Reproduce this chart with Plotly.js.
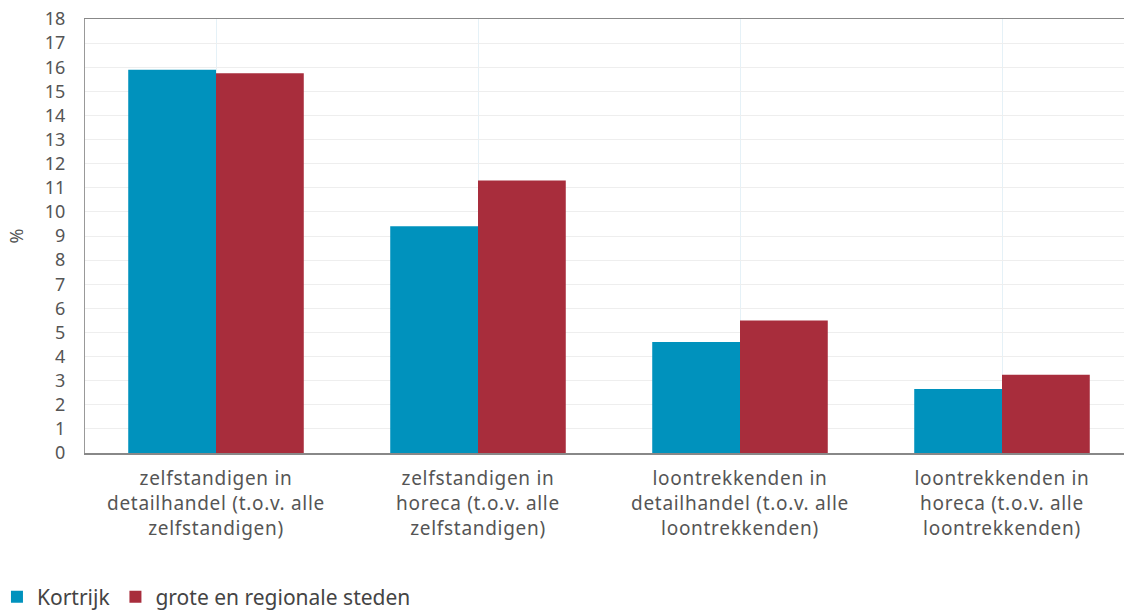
<!DOCTYPE html>
<html>
<head>
<meta charset="utf-8">
<script src="https://cdn.plot.ly/plotly-3.0.1.min.js"></script>
<style>
html,body{margin:0;padding:0;overflow:hidden;background:#fff;width:1124px;height:612px;}
#chart{width:1140px;height:612px;}
#chart svg .xtick text{letter-spacing:0.7px;}
</style>
</head>
<body>
<div id="chart"></div>
<script>
const categories = [
  "zelfstandigen in<br>detailhandel (t.o.v. alle<br>zelfstandigen)",
  "zelfstandigen in<br>horeca (t.o.v. alle<br>zelfstandigen)",
  "loontrekkenden in<br>detailhandel (t.o.v. alle<br>loontrekkenden)",
  "loontrekkenden in<br>horeca (t.o.v. alle<br>loontrekkenden)"
];
const kortrijk = [15.9, 9.4, 4.6, 2.65];
const steden = [15.75, 11.3, 5.5, 3.25];
const seriesNames = ["Kortrijk", "grote en regionale steden"];
const yTicks = [0,1,2,3,4,5,6,7,8,9,10,11,12,13,14,15,16,17,18];

const font = "'Noto Sans', 'Open Sans', sans-serif";
const traces = [
  {type:"bar", name:seriesNames[0], x:categories, y:kortrijk, marker:{color:"#0092bd"}, hoverinfo:"y"},
  {type:"bar", name:seriesNames[1], x:categories, y:steden, marker:{color:"#a82d3c"}, hoverinfo:"y"}
];
const layout = {
  width:1140, height:612,
  margin:{l:85, r:7, t:19, b:159, autoexpand:false},
  paper_bgcolor:"#fff", plot_bgcolor:"#fff",
  font:{family:font, color:"#555", size:19},
  barmode:"group", bargap:0.33, bargroupgap:0,
  showlegend:true,
  legend:{orientation:"h", x:-0.084, xanchor:"left", y:-0.332, yanchor:"middle",
          font:{size:21, color:"#444"}, itemwidth:20, tracegroupgap:0},
  xaxis:{type:"category", automargin:false, showgrid:true, gridcolor:"#e5f1f7", gridwidth:1,
         showline:true, linecolor:"#888", linewidth:1.5, mirror:true,
         ticks:"", ticklabelstandoff:8, tickfont:{size:19, color:"#555"}, fixedrange:true},
  yaxis:{range:[0,18], automargin:false, tickvals:yTicks, ticktext:yTicks.map(String),
         showgrid:true, gridcolor:"#eeeeee", gridwidth:1, zeroline:false,
         showline:true, linecolor:"#999", linewidth:1,
         ticks:"", ticklabelstandoff:15, tickfont:{size:18, color:"#555"},
         title:{text:"%", font:{size:18, color:"#555"}, standoff:16}, fixedrange:true}
};
Plotly.newPlot("chart", traces, layout, {displayModeBar:false, staticPlot:true});
</script>
</body>
</html>
